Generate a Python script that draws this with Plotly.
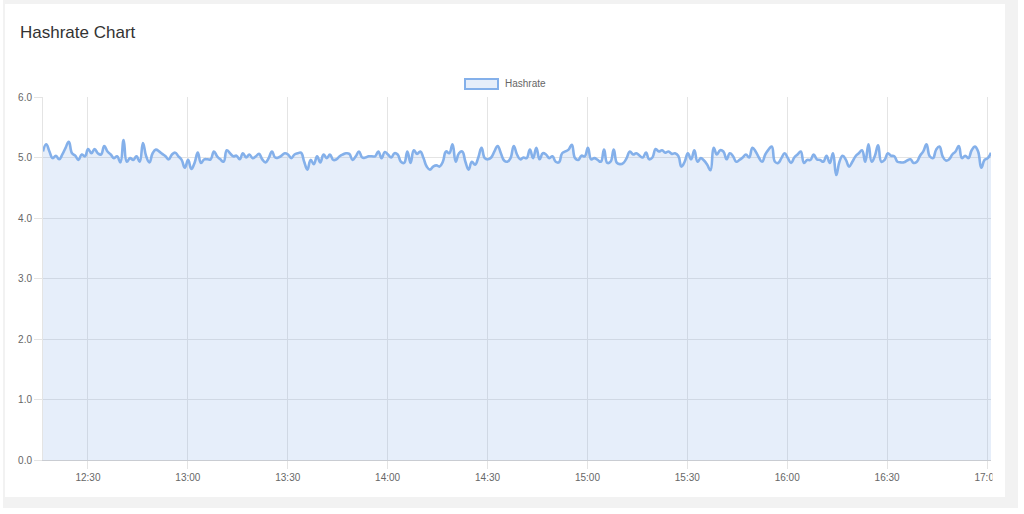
import pandas as pd
import plotly.graph_objects as go

# ---------------- data ----------------
start_time = "2024-01-01 12:16:30"
end_time = "2024-01-01 17:01:12"

hashrate = [
    5.10, 5.22, 5.10, 4.99, 5.03, 4.97, 5.05, 5.16, 5.26, 5.07, 5.03, 4.96, 5.05, 5.02, 5.14, 5.07,
    5.14, 5.07, 5.05, 5.19, 5.10, 5.05, 4.99, 5.02, 4.92, 5.29, 4.93, 4.99, 4.96, 5.02, 4.93, 5.24,
    5.02, 4.92, 5.07, 5.13, 5.10, 5.06, 5.02, 4.97, 5.05, 5.08, 5.02, 4.96, 4.83, 4.96, 4.81, 4.91,
    5.08, 4.91, 4.97, 4.97,
    4.97, 5.10, 5.02, 4.97, 4.93, 5.12, 5.07, 5.02, 5.03, 4.97, 5.07, 5.00, 5.05, 4.99, 5.02, 5.06,
    4.97, 4.92, 4.99, 5.10, 5.00, 5.00, 5.03, 5.07, 5.05, 4.99, 5.05, 5.07, 5.08, 4.93, 4.80, 4.96,
    4.89, 5.02, 4.92, 5.05, 4.99, 5.05, 4.96, 4.97, 5.02, 5.05, 5.07, 5.06, 4.96, 5.02, 5.10, 5.00,
    5.00, 5.02,
    5.02, 5.02, 5.10, 4.99, 5.09, 5.05, 5.00, 5.07, 5.05, 4.93, 4.91, 5.10, 4.91, 5.12, 5.06, 5.10,
    4.99, 4.85, 4.80, 4.85, 4.87, 4.85, 4.93, 5.10, 5.07, 5.22, 4.93, 5.07, 5.10, 4.93, 4.80, 4.93,
    4.88, 5.00, 5.16, 4.99, 4.97, 5.00, 5.10, 5.19, 5.07, 4.95, 4.93, 4.99, 5.19, 5.05, 4.97, 5.00,
    4.99,
    5.13, 4.99, 5.16, 4.97, 5.07, 5.05, 4.99, 5.02, 4.93, 4.92, 5.07, 5.10, 5.13, 5.21, 4.99, 4.96,
    5.03, 5.02, 5.16, 4.97, 4.99, 4.96, 4.93, 5.13, 4.91, 4.93, 5.13, 4.91, 4.89, 4.91, 4.99, 5.10,
    5.05, 5.07, 5.03, 5.00, 5.08, 4.97, 5.00, 5.14, 5.10, 5.12, 5.08, 5.10, 5.06, 5.07, 5.03, 4.85,
    4.93,
    5.07, 4.97, 5.12, 4.93, 4.99, 4.95, 4.88, 4.79, 5.16, 5.05, 5.12, 5.10, 4.97, 5.07, 5.02, 4.93,
    4.96, 5.00, 5.05, 5.00, 5.16, 5.10, 5.00, 4.93, 5.05, 5.13, 5.18, 4.93, 4.91, 4.99, 5.07, 4.99,
    4.91, 5.00, 5.05, 5.10, 4.91, 4.96, 4.96, 5.05, 4.97, 4.96, 4.93, 5.03, 4.91, 5.07, 4.71, 4.93,
    5.03,
    4.96, 4.85, 4.93, 5.02, 5.07, 5.12, 4.93, 5.22, 4.93, 5.03, 5.20, 4.93, 4.96, 5.07, 5.03, 5.02,
    4.93, 4.92, 4.92, 4.95, 4.97, 4.91, 4.93, 5.03, 5.10, 5.22, 5.02, 4.99, 5.13, 5.18, 5.02, 4.95,
    4.97, 5.05, 5.10, 5.19, 4.99, 5.03, 4.99, 5.12, 5.18, 5.10, 4.83, 4.96, 4.99, 5.08,
]

times = pd.date_range(start_time, end_time, periods=len(hashrate))

y_ticks = [0, 1, 2, 3, 4, 5, 6]
title_text = "Hashrate Chart"
series_name = "Hashrate"

# ---------------- layout geometry ----------------
W, H = 1024, 514
ML, MR, MT, MB = 43, 33, 97, 54
PW, PH = W - ML - MR, H - MT - MB


def px(x):
    return (x - ML) / PW


def py(y):
    return (H - MB - y) / PH


LINE = "#84b0ea"
FILL = "rgba(130,170,232,0.20)"
GRID = "#e4e4e4"
FONT = "Liberation Sans, Arial, Helvetica, sans-serif"
TICKF = dict(family=FONT, size=10, color="#666666")

fig = go.Figure()
fig.add_trace(go.Scatter(
    x=times, y=hashrate, name=series_name, mode="lines",
    line=dict(color=LINE, width=2.6, shape="spline", smoothing=1.3),
    fill="tozeroy", fillcolor=FILL, showlegend=False,
))

shapes = [
    # page frame / card
    dict(type="rect", xref="paper", yref="paper", layer="below",
         x0=px(3), x1=px(1018), y0=py(508), y1=py(0),
         fillcolor="#f2f2f2", line=dict(width=0)),
    dict(type="rect", xref="paper", yref="paper", layer="below",
         x0=px(5), x1=px(1005), y0=py(497), y1=py(4),
         fillcolor="#ffffff", line=dict(width=0)),
    # legend swatch
    dict(type="rect", xref="paper", yref="paper", layer="above",
         x0=px(465), x1=px(498), y0=py(89), y1=py(79),
         fillcolor="#e6eefa", line=dict(color=LINE, width=2)),
    # canvas clipping at the right edge of the chart
    dict(type="rect", xref="paper", yref="paper", layer="above",
         x0=px(992.5), x1=px(1005), y0=py(490), y1=py(466),
         fillcolor="#ffffff", line=dict(width=0)),
]

annotations = [
    dict(text=title_text, xref="paper", yref="paper", x=px(18), y=py(32),
         xanchor="left", yanchor="middle", showarrow=False,
         font=dict(family=FONT, size=17, color="#333333")),
    dict(text=series_name, xref="paper", yref="paper", x=px(503), y=py(84),
         xanchor="left", yanchor="middle", showarrow=False,
         font=dict(family=FONT, size=10, color="#666666")),
]

fig.update_layout(
    width=W, height=H, autosize=False,
    margin=dict(l=ML, r=MR, t=MT, b=MB, pad=0),
    paper_bgcolor="#ffffff", plot_bgcolor="rgba(0,0,0,0)",
    showlegend=False,
    shapes=shapes, annotations=annotations,
    xaxis=dict(
        type="date", range=[start_time, end_time],
        tick0="2024-01-01 12:30", dtick=30 * 60 * 1000, tickformat="%H:%M",
        showgrid=True, gridcolor=GRID, gridwidth=1,
        ticks="outside", ticklen=8, tickcolor=GRID, tickfont=TICKF,
        showline=True, linecolor="#c9ccd2", linewidth=1,
        zeroline=False, fixedrange=True,
    ),
    yaxis=dict(
        range=[0, 6], tickvals=y_ticks, tickformat=".1f",
        showgrid=True, gridcolor=GRID, gridwidth=1,
        ticks="outside", ticklen=8, tickcolor=GRID, tickfont=TICKF,
        showline=True, linecolor=GRID, linewidth=1,
        zeroline=False, fixedrange=True,
    ),
)

fig.write_html(
    "out.html",
    config={"displayModeBar": False},
    post_script="document.body.style.margin='0';document.body.style.overflow='hidden';",
)
